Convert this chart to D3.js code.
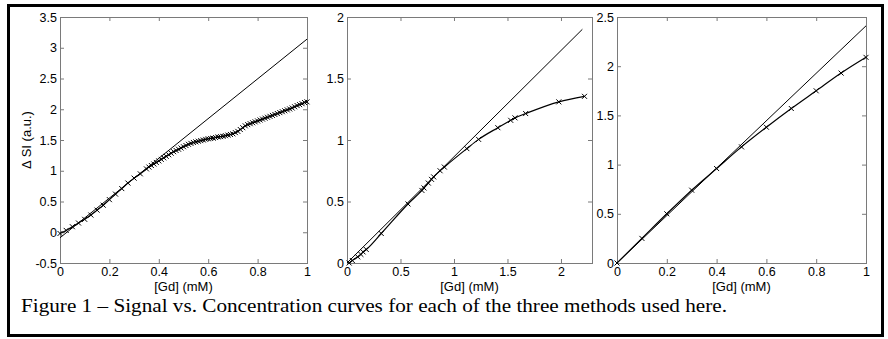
<!DOCTYPE html>
<html>
<head>
<meta charset="utf-8">
<script src="https://cdn.jsdelivr.net/npm/d3@7"></script>
<style>
  body { margin: 0; background: #fff; }
  svg { display: block; }
  .tick text { font-family: "Liberation Sans", Arial, sans-serif; font-size: 12.5px; fill: #000; }
  .tick line { stroke: #7a7a7a; }
</style>
</head>
<body>
<div id="chart"></div>
<script>
// panel 1 - measured signal (dense sampling past 0.35 mM)
const conc1 = [0, 0.025, 0.05, 0.075, 0.1, 0.125, 0.15, 0.175, 0.2, 0.225, 0.25, 0.275, 0.3, 0.325, 0.35,
  0.36, 0.37, 0.38, 0.39, 0.40, 0.41, 0.42, 0.43, 0.44, 0.45, 0.46, 0.47, 0.48, 0.49, 0.50,
  0.51, 0.52, 0.53, 0.54, 0.55, 0.56, 0.57, 0.58, 0.59, 0.60, 0.61, 0.62, 0.63, 0.64, 0.65,
  0.66, 0.67, 0.68, 0.69, 0.70, 0.71, 0.72, 0.73, 0.74, 0.75, 0.76, 0.77, 0.78, 0.79, 0.80,
  0.81, 0.82, 0.83, 0.84, 0.85, 0.86, 0.87, 0.88, 0.89, 0.90, 0.91, 0.92, 0.93, 0.94, 0.95,
  0.96, 0.97, 0.98, 0.99, 1.0];
const signal1 = [-0.02, 0.03, 0.09, 0.15, 0.21, 0.28, 0.36, 0.44, 0.53, 0.62, 0.71, 0.80, 0.88, 0.95, 1.03,
  1.06, 1.085, 1.11, 1.135, 1.16, 1.185, 1.21, 1.235, 1.26, 1.285, 1.31, 1.33, 1.35, 1.37, 1.39,
  1.41, 1.43, 1.445, 1.46, 1.47, 1.48, 1.49, 1.50, 1.51, 1.52, 1.525, 1.53, 1.54, 1.55, 1.555,
  1.56, 1.57, 1.58, 1.59, 1.60, 1.62, 1.64, 1.67, 1.70, 1.73, 1.75, 1.765, 1.78, 1.795, 1.81,
  1.825, 1.84, 1.855, 1.87, 1.885, 1.90, 1.915, 1.93, 1.945, 1.96, 1.975, 1.99, 2.005, 2.02, 2.04,
  2.06, 2.075, 2.09, 2.11, 2.12];
const fitX1 = [0, 1];
const fitY1 = [-0.09, 3.14];
const xTicks1 = [0, 0.2, 0.4, 0.6, 0.8, 1];
const yTicks1 = [-0.5, 0, 0.5, 1, 1.5, 2, 2.5, 3, 3.5];

// panel 2
const conc2 = [0.02, 0.05, 0.10, 0.13, 0.15, 0.18, 0.32, 0.57, 0.70, 0.72, 0.76, 0.79, 0.81, 0.87, 0.91,
  1.12, 1.23, 1.41, 1.53, 1.57, 1.67, 1.98, 2.22];
const signal2 = [0.0, 0.02, 0.05, 0.07, 0.09, 0.11, 0.24, 0.48, 0.59, 0.61, 0.65, 0.68, 0.70, 0.75, 0.78,
  0.93, 1.005, 1.10, 1.16, 1.18, 1.215, 1.31, 1.355];
const fitX2 = [0, 2.2];
const fitY2 = [0, 1.90];
const xTicks2 = [0, 0.5, 1, 1.5, 2];
const yTicks2 = [0, 0.5, 1, 1.5, 2];

// panel 3
const conc3 = [0, 0.1, 0.2, 0.3, 0.4, 0.5, 0.6, 0.7, 0.8, 0.9, 1.0];
const signal3 = [0, 0.25, 0.50, 0.74, 0.96, 1.18, 1.38, 1.57, 1.75, 1.93, 2.09];
const fitX3 = [0, 1];
const fitY3 = [0, 2.41];
const xTicks3 = [0, 0.2, 0.4, 0.6, 0.8, 1];
const yTicks3 = [0, 0.5, 1, 1.5, 2, 2.5];

const width = 888, height = 339;
const plotTop = 17, plotBottom = 263;
const fmt = d => String(d);
const sans = '"Liberation Sans", Arial, sans-serif';

const panels = [
  { left: 60, right: 307, xDomain: [0, 1], yDomain: [-0.5, 3.5], xs: conc1, ys: signal1, fx: fitX1, fy: fitY1, xTicks: xTicks1, yTicks: yTicks1 },
  { left: 347, right: 592, xDomain: [0, 2.29], yDomain: [0, 2], xs: conc2, ys: signal2, fx: fitX2, fy: fitY2, xTicks: xTicks2, yTicks: yTicks2 },
  { left: 617, right: 866, xDomain: [0, 1], yDomain: [0, 2.5], xs: conc3, ys: signal3, fx: fitX3, fy: fitY3, xTicks: xTicks3, yTicks: yTicks3 }
];

const svg = d3.select('#chart').append('svg')
  .attr('width', width).attr('height', height);

// outer figure frame
svg.append('rect')
  .attr('x', 8.5).attr('y', 5.5).attr('width', 874).attr('height', 330)
  .attr('fill', 'none').attr('stroke', '#000').attr('stroke-width', 3);

const marker = 'M-2.5,-2.5L2.5,2.5M-2.5,2.5L2.5,-2.5';

panels.forEach((p, i) => {
  const x = d3.scaleLinear().domain(p.xDomain).range([p.left, p.right]);
  const y = d3.scaleLinear().domain(p.yDomain).range([plotBottom, plotTop]);
  const g = svg.append('g');

  // ticks on all four sides, pointing inward
  g.append('g').attr('transform', 'translate(0,' + plotBottom + ')')
    .call(d3.axisBottom(x).tickValues(p.xTicks).tickSize(-4).tickPadding(4).tickFormat(fmt))
    .call(a => a.select('.domain').remove());
  g.append('g').attr('transform', 'translate(0,' + plotTop + ')')
    .call(d3.axisTop(x).tickValues(p.xTicks).tickSize(-4).tickFormat(''))
    .call(a => a.select('.domain').remove());
  g.append('g').attr('transform', 'translate(' + p.left + ',0)')
    .call(d3.axisLeft(y).tickValues(p.yTicks).tickSize(-4).tickPadding(3).tickFormat(fmt))
    .call(a => a.select('.domain').remove());
  g.append('g').attr('transform', 'translate(' + p.right + ',0)')
    .call(d3.axisRight(y).tickValues(p.yTicks).tickSize(-4).tickFormat(''))
    .call(a => a.select('.domain').remove());

  g.append('rect')
    .attr('x', p.left + 0.5).attr('y', plotTop + 0.5)
    .attr('width', p.right - p.left).attr('height', plotBottom - plotTop)
    .attr('fill', 'none').attr('stroke', '#7a7a7a').attr('stroke-width', 1);

  // straight reference line
  g.append('path')
    .datum(p.fx.map((v, k) => [v, p.fy[k]]))
    .attr('d', d3.line().x(d => x(d[0])).y(d => y(d[1])))
    .attr('fill', 'none').attr('stroke', '#000').attr('stroke-width', 1);

  // measured curve
  const pts = p.xs.map((v, k) => [v, p.ys[k]]);
  g.append('path')
    .datum(pts)
    .attr('d', d3.line().curve(d3.curveMonotoneX).x(d => x(d[0])).y(d => y(d[1])))
    .attr('fill', 'none').attr('stroke', '#000').attr('stroke-width', 1.2);
  g.selectAll('.mk').data(pts).enter().append('path')
    .attr('class', 'mk')
    .attr('transform', d => 'translate(' + x(d[0]) + ',' + y(d[1]) + ')')
    .attr('d', marker)
    .attr('fill', 'none').attr('stroke', '#000').attr('stroke-width', 1);

  g.append('text')
    .attr('x', (p.left + p.right) / 2).attr('y', 291)
    .attr('text-anchor', 'middle')
    .style('font-family', sans).style('font-size', '13px')
    .text('[Gd] (mM)');

  if (i === 0) {
    g.append('text')
      .attr('transform', 'translate(31,140) rotate(-90)')
      .attr('text-anchor', 'middle')
      .style('font-family', sans).style('font-size', '13px')
      .text('\u0394 SI (a.u.)');
  }
});

svg.append('text')
  .attr('x', 21).attr('y', 312)
  .attr('textLength', 706).attr('lengthAdjust', 'spacingAndGlyphs')
  .style('font-family', '"Liberation Serif", "Times New Roman", serif').style('font-size', '19px')
  .text('Figure 1 \u2013 Signal vs. Concentration curves for each of the three methods used here.');
</script>
</body>
</html>
